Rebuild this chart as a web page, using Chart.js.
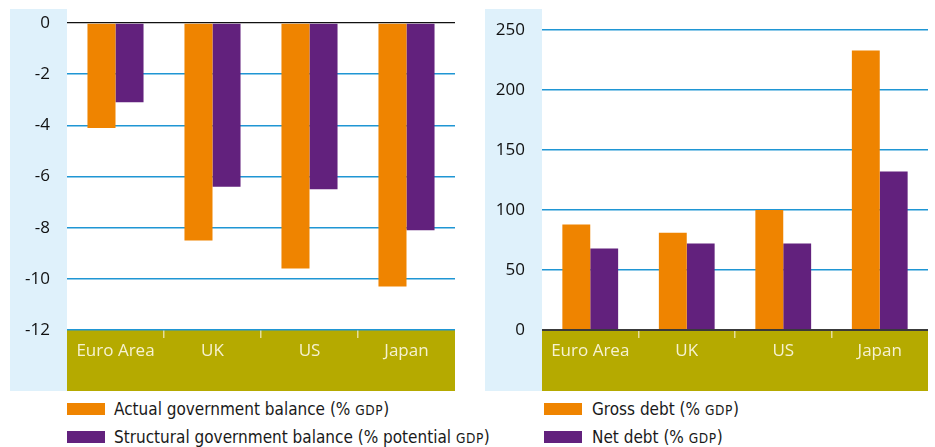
<!DOCTYPE html>
<html>
<head>
<meta charset="utf-8">
<script src="https://cdn.jsdelivr.net/npm/chart.js@4.4.1/dist/chart.umd.min.js"></script>
<style>
  html, body { margin: 0; padding: 0; background: #fff; }
  #wrap { position: relative; width: 935px; height: 447px; overflow: hidden; }
  canvas { position: absolute; top: 0; }
  .leg { position: absolute; font-family: 'DejaVu Sans Condensed', 'Liberation Sans Narrow', sans-serif; font-size: 17px; color: #1a1a1a; white-space: nowrap; line-height: 20px; }
  .sw { position: absolute; width: 38px; height: 12px; }
  .sc { font-size: 0.8em; letter-spacing: 0.04em; }
</style>
</head>
<body>
<div id="wrap">
  <canvas id="left" width="467" height="395" style="left:0"></canvas>
  <canvas id="right" width="468" height="395" style="left:467px"></canvas>

  <div class="sw" style="left:67px; top:403px; background:#ef8400"></div>
  <div class="leg" style="left:114px; top:399px">Actual government balance (% <span class="sc">GDP</span>)</div>
  <div class="sw" style="left:67px; top:431px; background:#62217d"></div>
  <div class="leg" style="left:114px; top:427px">Structural government balance (% potential <span class="sc">GDP</span>)</div>

  <div class="sw" style="left:544px; top:403px; background:#ef8400"></div>
  <div class="leg" style="left:592px; top:399px">Gross debt (% <span class="sc">GDP</span>)</div>
  <div class="sw" style="left:544px; top:431px; background:#62217d"></div>
  <div class="leg" style="left:592px; top:427px">Net debt (% <span class="sc">GDP</span>)</div>
</div>
<script>
const categories = ['Euro Area', 'UK', 'US', 'Japan'];
const actualBalance = [-4.1, -8.5, -9.6, -10.3];
const structuralBalance = [-3.1, -6.4, -6.5, -8.1];
const grossDebt = [88, 81, 100, 233];
const netDebt = [68, 72, 72, 132];
const balanceTicks = [0, -2, -4, -6, -8, -10, -12];
const debtTicks = [0, 50, 100, 150, 200, 250];

const ORANGE = '#ef8400';
const PURPLE = '#62217d';
const OLIVE = '#b5aa00';
const PANEL = '#dff1fb';
const GRID = '#1f96d4';

const bgPlugin = {
  id: 'bg',
  beforeDraw(chart) {
    const ctx = chart.ctx;
    const y = chart.scales.y, a = chart.chartArea;
    ctx.save();
    ctx.fillStyle = PANEL;
    ctx.fillRect(y.left, 9, y.width, 391 - 9);
    ctx.fillStyle = OLIVE;
    ctx.fillRect(a.left, a.bottom, a.right - a.left, 391 - a.bottom);
    ctx.restore();
  }
};

function makeChart(id, s1, s2, ticks, min, max, pad, zeroColor, zeroWidth) {
  return new Chart(document.getElementById(id), {
    type: 'bar',
    data: {
      labels: categories,
      datasets: [
        { data: s1, backgroundColor: ORANGE, borderWidth: 0, categoryPercentage: 0.578, barPercentage: 1 },
        { data: s2, backgroundColor: PURPLE, borderWidth: 0, categoryPercentage: 0.578, barPercentage: 1 }
      ]
    },
    options: {
      responsive: false,
      animation: false,
      devicePixelRatio: 1,
      layout: { padding: pad },
      plugins: { legend: { display: false }, tooltip: { enabled: false } },
      scales: {
        x: {
          position: 'bottom',
          border: { display: false },
          grid: {
            offset: true,
            drawOnChartArea: false,
            drawTicks: true,
            tickLength: 8,
            lineWidth: 1.5,
            color: c => (c.index === 0 || c.index === undefined) ? 'rgba(0,0,0,0)' : '#e6de98'
          },
          ticks: { color: '#f6f2d0', font: { family: 'Open Sans', size: 17 }, padding: 3, maxRotation: 0 },
          afterFit: s => { s.height = 61; }
        },
        y: {
          min: min, max: max,
          border: { display: false },
          grid: {
            drawTicks: false,
            lineWidth: c => (c.tick && c.tick.value === 0) ? zeroWidth : 1.6,
            color: c => (c.tick && c.tick.value === 0) ? zeroColor : GRID
          },
          ticks: { color: '#111', font: { family: 'Open Sans', size: 17 }, padding: 17 },
          afterBuildTicks: s => { s.ticks = ticks.map(v => ({ value: v })); },
          afterFit: s => { s.width = 57; s.paddingTop = 0; s.paddingBottom = 0; }
        }
      }
    },
    plugins: [bgPlugin]
  });
}

makeChart('left', actualBalance, structuralBalance, balanceTicks, -12, 0,
  { left: 10, right: 12, top: 23, bottom: 4 }, '#111', 1.3);
makeChart('right', grossDebt, netDebt, debtTicks, 0, 250,
  { left: 18, right: 7, top: 30, bottom: 4 }, '#3a3a3a', 2);
</script>
</body>
</html>
